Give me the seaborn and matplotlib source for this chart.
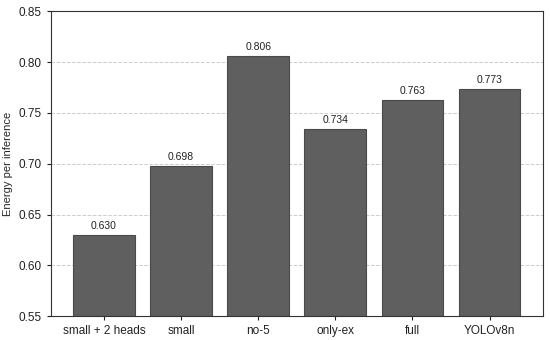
import pandas as pd
import seaborn as sns
import matplotlib.pyplot as plt

models = ['small + 2 heads', 'small', 'no-5', 'only-ex', 'full', 'YOLOv8n']
energy = [0.630, 0.698, 0.806, 0.734, 0.763, 0.773]

df = pd.DataFrame({'model': models, 'energy': energy})

sns.set_style('white')
plt.rcParams['font.family'] = ['Liberation Sans', 'DejaVu Sans']

fig, ax = plt.subplots(figsize=(5.5, 3.4), dpi=100)
fig.subplots_adjust(left=0.092, right=0.987, top=0.967, bottom=0.07)

sns.barplot(data=df, x='model', y='energy', color='#5f5f5f', saturation=1,
            width=0.8, edgecolor='#4a4a4a', linewidth=0.8, ax=ax, zorder=2)

for i, v in enumerate(energy):
    ax.text(i, v + 0.004, f'{v:.3f}', ha='center', va='bottom', fontsize=7.5, color='#222222')

ax.set_ylim(0.55, 0.85)
ax.set_xlim(-0.69, 5.69)
ax.set_yticks([0.55, 0.60, 0.65, 0.70, 0.75, 0.80, 0.85])
ax.yaxis.grid(True, linestyle='--', color='#cccccc', linewidth=0.7, zorder=0)
ax.set_axisbelow(True)
ax.set_xlabel('')
ax.set_ylabel('Energy per inference', fontsize=8)
ax.tick_params(axis='both', labelsize=8.5, length=3, width=0.8, direction='out',
               bottom=True, left=True, colors='#222222')
for s in ax.spines.values():
    s.set_color('#333333')
    s.set_linewidth(0.8)

fig.savefig('out.png', dpi=100)
